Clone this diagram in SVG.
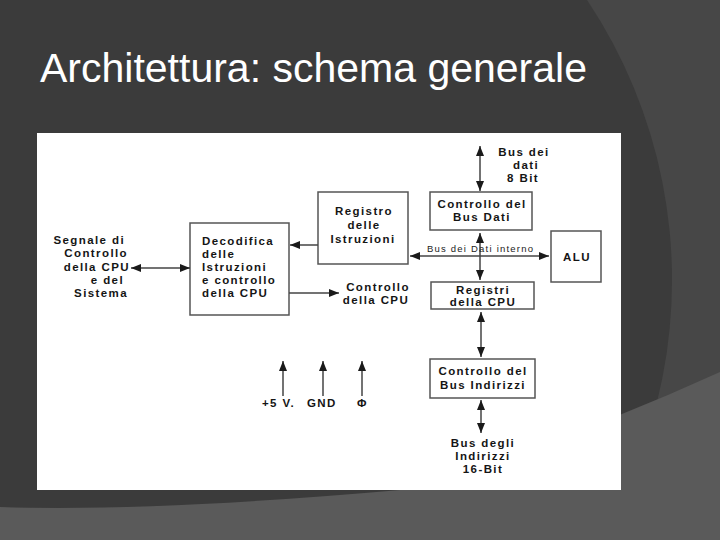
<svg xmlns="http://www.w3.org/2000/svg" width="720" height="540" viewBox="0 0 720 540">
<style>
.bx{fill:#fff;stroke:#555;stroke-width:1.5}
.t{font-family:"Liberation Sans",Arial,sans-serif;font-weight:bold;font-size:11.5px;letter-spacing:1.4px;fill:#151515}
.c{text-anchor:middle}
.e{text-anchor:end}
.ln{stroke:#444;stroke-width:1.5;fill:none}
</style>
<defs>
<marker id="ah" viewBox="0 0 10 8" refX="10" refY="4" markerWidth="11" markerHeight="8" orient="auto-start-reverse" markerUnits="userSpaceOnUse">
<path d="M0,0 L10,4 L0,8 Z" fill="#1a1a1a"/>
</marker>
</defs>
<g id="background">
<rect x="0" y="0" width="720" height="540" fill="#474747"/>
<circle cx="168" cy="280" r="504" fill="#3b3b3b"/>
<path d="M0,507 Q150,512 400,490 Q560,445 720,372 L720,540 L0,540 Z" fill="#5a5a5a"/>
</g>
<text id="title" x="40" y="82" font-family="'Liberation Sans',Arial,sans-serif" font-size="41" fill="#ffffff">Architettura: schema generale</text>
<rect id="panel" x="37" y="133" width="584" height="357" fill="#ffffff"/>

<g id="segnale">
<text class="t e" x="125" y="244">Segnale di</text>
<text class="t e" x="128" y="257">Controllo</text>
<text class="t e" x="130" y="271">della CPU</text>
<text class="t e" x="124" y="284">e del</text>
<text class="t e" x="128" y="297">Sistema</text>
</g>
<g id="decodifica">
<rect class="bx" x="190" y="223" width="99" height="92"/>
<text class="t" x="202" y="245">Decodifica</text>
<text class="t" x="202" y="258">delle</text>
<text class="t" x="202" y="271">Istruzioni</text>
<text class="t" x="202" y="284">e controllo</text>
<text class="t" x="202" y="297">della CPU</text>
</g>
<g id="registro">
<rect class="bx" x="318" y="192" width="90" height="72"/>
<text class="t c" x="364" y="215">Registro</text>
<text class="t c" x="364" y="229">delle</text>
<text class="t c" x="363" y="243">Istruzioni</text>
</g>
<g id="controllo-cpu">
<text class="t c" x="378" y="291">Controllo</text>
<text class="t c" x="376" y="304">della CPU</text>
</g>
<g id="bus-dati-8">
<text class="t c" x="524" y="156">Bus dei</text>
<text class="t c" x="526" y="169">dati</text>
<text class="t c" x="523" y="182">8 Bit</text>
</g>
<g id="controllo-bus-dati">
<rect class="bx" x="430" y="192" width="102" height="38"/>
<text class="t c" x="482" y="208">Controllo del</text>
<text class="t c" x="482" y="221">Bus Dati</text>
</g>
<g id="alu">
<rect class="bx" x="551" y="231" width="50" height="51"/>
<text class="t c" x="577" y="261">ALU</text>
</g>
<g id="registri">
<rect class="bx" x="431" y="282" width="103" height="27"/>
<text class="t c" x="483" y="294">Registri</text>
<text class="t c" x="483" y="306">della CPU</text>
</g>
<g id="controllo-bus-indirizzi">
<rect class="bx" x="430" y="359" width="105" height="39"/>
<text class="t c" x="483" y="375">Controllo del</text>
<text class="t c" x="483" y="389">Bus Indirizzi</text>
</g>
<g id="bus-indirizzi-16">
<text class="t c" x="483" y="447">Bus degli</text>
<text class="t c" x="483" y="460">Indirizzi</text>
<text class="t c" x="483" y="473">16-Bit</text>
</g>
<g id="alimentazione">
<text class="t" x="262" y="407">+5 V.</text>
<text class="t" x="307" y="407">GND</text>
<text class="t" x="357" y="407">Φ</text>
</g>

<g id="connectors">
<path class="ln" d="M131,268 L190,268" marker-start="url(#ah)" marker-end="url(#ah)"/>
<path class="ln" d="M318,245 L290,245" marker-end="url(#ah)"/>
<path class="ln" d="M289,293 L339,293" marker-end="url(#ah)"/>
<path class="ln" d="M480,146 L480,191" marker-start="url(#ah)" marker-end="url(#ah)"/>
<path class="ln" d="M480,233 L480,280" marker-start="url(#ah)" marker-end="url(#ah)"/>
<path class="ln" d="M410,256 L549,256" marker-start="url(#ah)" marker-end="url(#ah)"/>
<text x="427" y="252" font-family="'Liberation Sans',Arial,sans-serif" font-size="9.5" fill="#222" textLength="106" lengthAdjust="spacing">Bus dei Dati interno</text>
<path class="ln" d="M481,312 L481,357" marker-start="url(#ah)" marker-end="url(#ah)"/>
<path class="ln" d="M481,400 L481,433" marker-start="url(#ah)" marker-end="url(#ah)"/>
<path class="ln" d="M283,396 L283,361" marker-end="url(#ah)"/>
<path class="ln" d="M323,396 L323,361" marker-end="url(#ah)"/>
<path class="ln" d="M362,396 L362,361" marker-end="url(#ah)"/>
</g>
</svg>
